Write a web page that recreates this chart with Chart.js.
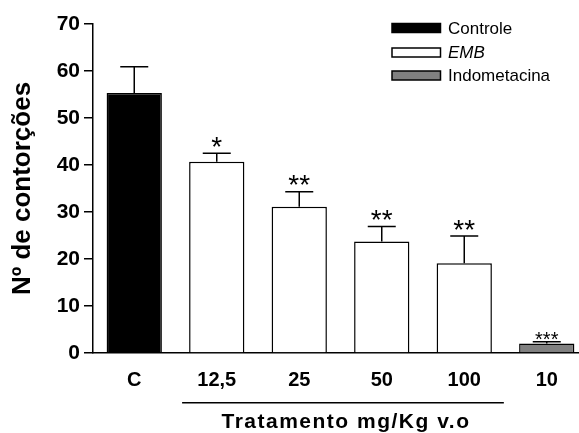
<!DOCTYPE html>
<html>
<head>
<meta charset="utf-8">
<script src="https://cdn.jsdelivr.net/npm/chart.js@4.4.0/dist/chart.umd.min.js"></script>
<style>
html, body { margin: 0; padding: 0; background: #fff; overflow: hidden; }
.wrap { position: relative; width: 588px; height: 433px; }
</style>
</head>
<body>
<div class="wrap"><canvas id="chart"></canvas></div>
<script>
// ---------------- DATA ----------------
const categories = ["C", "12,5", "25", "50", "100", "10"];
const controle = [55.3, null, null, null, null, null];
const emb = [null, 40.7, 31.1, 23.7, 19.1, null];
const indometacina = [null, null, null, null, null, 2.0];
const errors = [5.6, 1.8, 3.2, 3.2, 5.8, 0.4];
const stars = ["", "*", "**", "**", "**", "***"];
const yTicks = [0, 10, 20, 30, 40, 50, 60, 70];
const xTitle = "Tratamento mg/Kg v.o";
const yTitle = "Nº de contorções";

const FONT = '"Liberation Sans", Arial, sans-serif';

// ---------------- EXTRAS: error bars, stars, group line, legend ----------------
const extras = {
  id: "extras",
  afterDatasetsDraw(chart) {
    const ctx = chart.ctx;
    const y = chart.scales.y;
    const x = chart.scales.x;
    ctx.save();
    ctx.strokeStyle = "#000";
    ctx.fillStyle = "#000";
    ctx.lineWidth = 1.5;

    chart.data.datasets.forEach((ds, di) => {
      const meta = chart.getDatasetMeta(di);
      ds.data.forEach((v, i) => {
        if (v == null) return;
        const bar = meta.data[i];
        const top = y.getPixelForValue(v + errors[i]);
        ctx.beginPath();
        ctx.moveTo(bar.x, bar.y);
        ctx.lineTo(bar.x, top);
        ctx.moveTo(bar.x - 14, top);
        ctx.lineTo(bar.x + 14, top);
        ctx.stroke();
        if (stars[i]) {
          const size = stars[i].length > 2 ? 20 : 28;
          ctx.font = size + "px " + FONT;
          ctx.textAlign = "center";
          ctx.textBaseline = "alphabetic";
          ctx.fillText(stars[i], bar.x, top + 0.43 * size - (size > 20 ? 9.5 : 4));
        }
      });
    });

    // group line + x title
    const x0 = x.getPixelForValue(0.58);
    const x1 = x.getPixelForValue(4.48);
    ctx.beginPath();
    ctx.moveTo(x0, 402.7);
    ctx.lineTo(x1, 402.7);
    ctx.stroke();
    ctx.font = "bold 21px " + FONT;
    ctx.letterSpacing = "1.5px";
    ctx.textAlign = "center";
    ctx.textBaseline = "alphabetic";
    ctx.fillText(xTitle, (x0 + x1) / 2 + 3, 428);
    ctx.letterSpacing = "0px";

    // legend
    const rows = [28, 52.5, 75.5];
    chart.data.datasets.forEach((ds, di) => {
      const cy = rows[di];
      ctx.fillStyle = ds.backgroundColor;
      ctx.fillRect(392, cy - 4.5, 48.5, 9);
      ctx.strokeRect(392, cy - 4.5, 48.5, 9);
      ctx.fillStyle = "#000";
      ctx.font = (ds.label === "EMB" ? "italic " : "") + "17px " + FONT;
      ctx.textAlign = "left";
      ctx.textBaseline = "middle";
      ctx.fillText(ds.label, 448, cy + 1);
    });
    ctx.restore();
  }
};

// ---------------- CHART ----------------
const barStyle = {
  borderColor: "#000",
  borderWidth: 1.5,
  barPercentage: 0.67,
  categoryPercentage: 1
};

new Chart(document.getElementById("chart"), {
  type: "bar",
  data: {
    labels: categories,
    datasets: [
      { label: "Controle", data: controle, backgroundColor: "#000", ...barStyle },
      { label: "EMB", data: emb, backgroundColor: "#fff", ...barStyle },
      { label: "Indometacina", data: indometacina, backgroundColor: "#808080", ...barStyle }
    ]
  },
  options: {
    responsive: true,
    maintainAspectRatio: false,
    animation: false,
    layout: { padding: { top: 24, right: 0, bottom: 0, left: 0 } },
    plugins: {
      legend: { display: false },
      tooltip: { enabled: false }
    },
    scales: {
      x: {
        stacked: true,
        grid: { display: false },
        border: { display: true, color: "#000", width: 1.5 },
        ticks: { color: "#000", padding: 7, font: { family: FONT, size: 20, weight: "bold" } },
        afterFit: s => { s.height = 80; }
      },
      y: {
        stacked: true,
        min: 0,
        max: 70,
        afterBuildTicks: s => { s.ticks = yTicks.map(v => ({ value: v })); },
        grid: { drawOnChartArea: false, tickLength: 9, color: "#000", lineWidth: 1.5 },
        border: { color: "#000", width: 1.5 },
        ticks: { color: "#000", padding: 4, font: { family: FONT, size: 21, weight: "bold" } },
        title: {
          display: true,
          text: yTitle,
          color: "#000",
          font: { family: FONT, size: 26, weight: "bold" },
          padding: { top: 7, bottom: 0 }
        },
        afterFit: s => { s.width = 93; }
      }
    }
  },
  plugins: [extras]
});
</script>
</body>
</html>
